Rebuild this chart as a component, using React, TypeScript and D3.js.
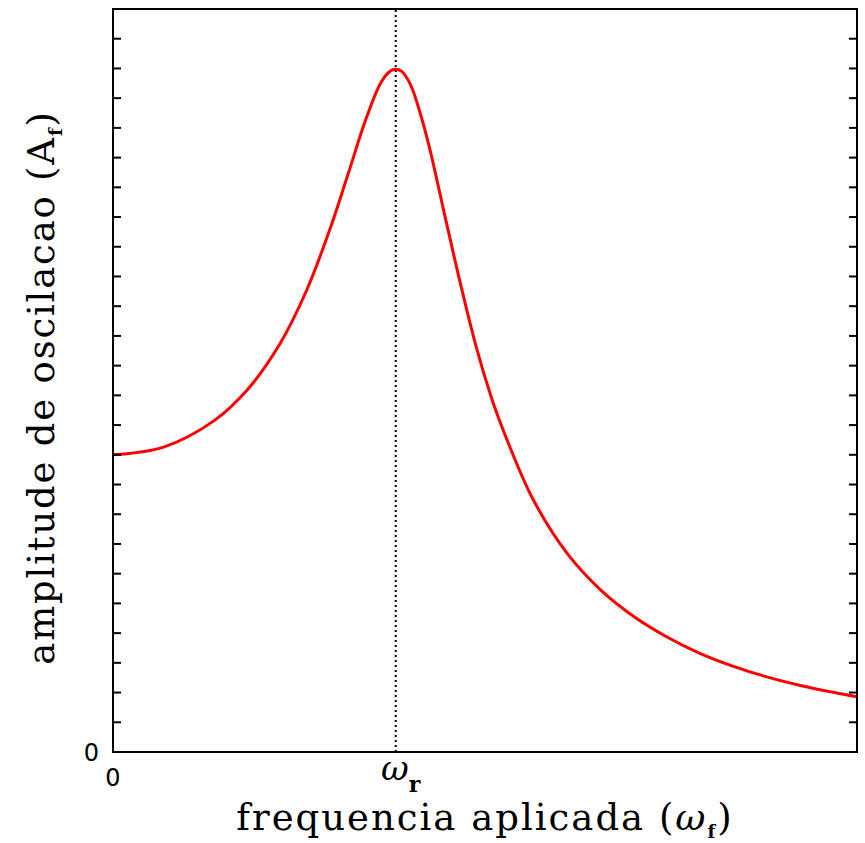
import React, { useEffect, useRef } from "react";
import * as d3 from "d3";

// frequencia aplicada (unidades de w0) e amplitude
const freq = [
  0, 0.17, 0.34, 0.45, 0.56, 0.65, 0.73, 0.79, 0.85, 0.9, 0.93, 0.95, 0.97,
  1.0, 1.035, 1.065, 1.115, 1.17, 1.22, 1.27, 1.3, 1.41, 1.53, 1.64, 1.75,
  1.86, 1.97, 2.08, 2.2, 2.31, 2.42, 2.5,
];
const amplitude = [
  10.0, 10.26, 11.15, 12.17, 13.72, 15.52, 17.62, 19.45, 21.3, 22.52, 22.9,
  22.97, 22.9, 22.45, 21.4, 20.27, 18.05, 15.65, 13.65, 11.97, 11.12, 8.53,
  6.63, 5.44, 4.56, 3.88, 3.33, 2.9, 2.52, 2.24, 2.01, 1.86,
];
const resonance = 0.95;
const yTickValues = d3.range(1, 25);

const width = 865;
const height = 843;
const margin = { top: 9, right: 8, bottom: 91, left: 113 };

export default function App() {
  const ref = useRef<SVGSVGElement>(null);

  useEffect(() => {
    const svg = d3.select(ref.current);
    svg.selectAll("*").remove();

    const x = d3
      .scaleLinear()
      .domain([0, 2.5])
      .range([margin.left, width - margin.right]);
    const y = d3
      .scaleLinear()
      .domain([0, 25])
      .range([height - margin.bottom, margin.top]);

    const data = freq.map((f, i) => ({ f, a: amplitude[i] }));

    svg
      .append("defs")
      .append("clipPath")
      .attr("id", "plot-clip")
      .append("rect")
      .attr("x", x(0))
      .attr("y", y(25))
      .attr("width", x(2.5) - x(0))
      .attr("height", y(0) - y(25));

    // linha pontilhada em w_r
    svg
      .append("line")
      .attr("x1", x(resonance))
      .attr("x2", x(resonance))
      .attr("y1", y(0))
      .attr("y2", y(25))
      .attr("stroke", "black")
      .attr("stroke-width", 2)
      .attr("stroke-dasharray", "2 3");

    const line = d3
      .line<{ f: number; a: number }>()
      .x((d) => x(d.f))
      .y((d) => y(d.a))
      .curve(d3.curveCatmullRom.alpha(0.5));

    svg
      .append("path")
      .datum(data)
      .attr("d", line)
      .attr("fill", "none")
      .attr("stroke", "#ff0000")
      .attr("stroke-width", 3)
      .attr("clip-path", "url(#plot-clip)");

    // moldura
    svg
      .append("rect")
      .attr("x", x(0))
      .attr("y", y(25))
      .attr("width", x(2.5) - x(0))
      .attr("height", y(0) - y(25))
      .attr("fill", "none")
      .attr("stroke", "black")
      .attr("stroke-width", 2);

    const ticks = svg.append("g").attr("stroke", "black").attr("stroke-width", 2);
    ticks
      .selectAll("line.l")
      .data(yTickValues)
      .join("line")
      .attr("class", "l")
      .attr("x1", x(0))
      .attr("x2", x(0) + 8)
      .attr("y1", (d) => y(d))
      .attr("y2", (d) => y(d));
    ticks
      .selectAll("line.r")
      .data(yTickValues)
      .join("line")
      .attr("class", "r")
      .attr("x1", x(2.5) - 8)
      .attr("x2", x(2.5))
      .attr("y1", (d) => y(d))
      .attr("y2", (d) => y(d));

    const sans = "'DejaVu Sans', sans-serif";
    const serif = "'DejaVu Serif', serif";

    svg
      .append("text")
      .attr("x", x(0) - 14)
      .attr("y", y(0) + 9)
      .attr("text-anchor", "end")
      .attr("font-family", sans)
      .attr("font-size", 24)
      .text("0");

    svg
      .append("text")
      .attr("x", x(0))
      .attr("y", y(0) + 34)
      .attr("text-anchor", "middle")
      .attr("font-family", sans)
      .attr("font-size", 24)
      .text("0");

    const wr = svg
      .append("text")
      .attr("x", x(resonance) + 5)
      .attr("y", y(0) + 28)
      .attr("text-anchor", "middle")
      .attr("font-family", serif)
      .attr("font-size", 34);
    wr.append("tspan").attr("font-style", "italic").text("ω");
    wr.append("tspan")
      .attr("font-size", 22)
      .attr("font-weight", "bold")
      .attr("dy", 12)
      .text("r");

    const xl = svg
      .append("text")
      .attr("x", (x(0) + x(2.5)) / 2)
      .attr("y", 830)
      .attr("text-anchor", "middle")
      .attr("font-family", serif)
      .attr("font-size", 37)
      .attr("letter-spacing", 2);
    xl.append("tspan").text("frequencia aplicada (");
    xl.append("tspan").attr("font-style", "italic").text("ω");
    xl.append("tspan")
      .attr("font-size", 18)
      .attr("font-weight", "bold")
      .attr("dy", 8)
      .text("f");
    xl.append("tspan").attr("dy", -8).text(")");

    const yl = svg
      .append("text")
      .attr("transform", `translate(54,${(y(0) + y(25)) / 2 + 7}) rotate(-90)`)
      .attr("text-anchor", "middle")
      .attr("font-family", serif)
      .attr("font-size", 37)
      .attr("letter-spacing", 1.8);
    yl.append("tspan").text("amplitude de oscilacao (A");
    yl.append("tspan")
      .attr("font-size", 18)
      .attr("font-weight", "bold")
      .attr("dy", 8)
      .text("f");
    yl.append("tspan").attr("dy", -8).text(")");
  }, []);

  return (
    <svg
      ref={ref}
      width={width}
      height={height}
      style={{ position: "absolute", left: 0, top: 0, background: "white" }}
    />
  );
}
